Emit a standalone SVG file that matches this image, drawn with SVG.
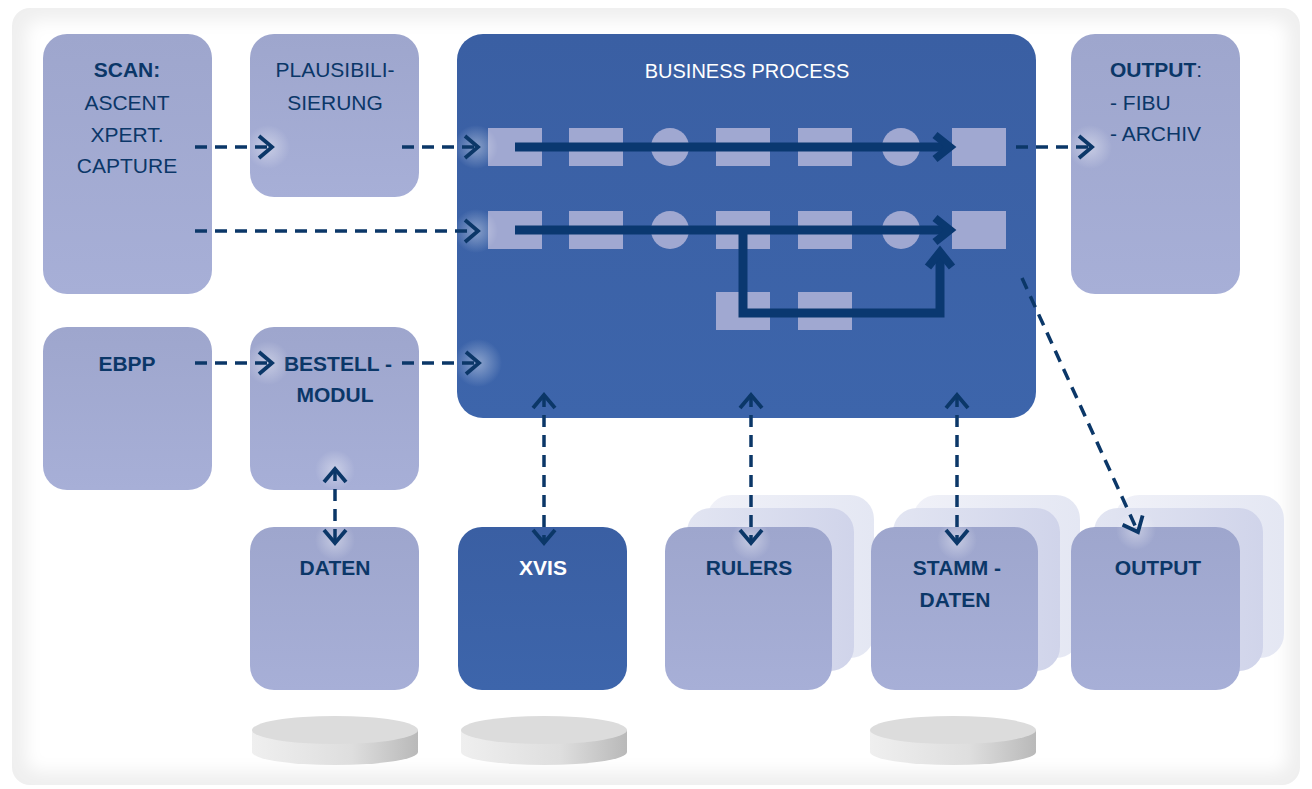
<svg xmlns="http://www.w3.org/2000/svg" width="1312" height="789" viewBox="0 0 1312 789">
<style>
  .lt{fill:url(#gLight)}
  .dk{fill:url(#gDark)}
  .sh1{fill:url(#gSh1)}
  .sh2{fill:url(#gSh2)}
  .t{font-family:"Liberation Sans",Arial,sans-serif;font-size:21px;fill:#0b3768;text-anchor:middle}
  .s{text-anchor:start}
  .b{font-weight:bold}
  .w{fill:#ffffff}
  .ps{fill:#a0a8d1}
  .dash{fill:none;stroke:#0b3768;stroke-width:3.5;stroke-dasharray:12 8}
  .thick{fill:none;stroke:#0a3870;stroke-width:9}
  .cylTop{fill:#dcdcdc}
  .cylSide{fill:url(#gCyl)}
</style>
<defs>
  <linearGradient id="gLight" x1="0" y1="0" x2="0" y2="1">
    <stop offset="0" stop-color="#9ea6cd"/>
    <stop offset="1" stop-color="#a7afd7"/>
  </linearGradient>
  <linearGradient id="gDark" x1="0" y1="0" x2="0" y2="1">
    <stop offset="0" stop-color="#3a5fa3"/>
    <stop offset="1" stop-color="#3d65ab"/>
  </linearGradient>
  <linearGradient id="gSh1" x1="0" y1="0" x2="1" y2="0">
    <stop offset="0" stop-color="#e2e5f2"/>
    <stop offset="1" stop-color="#d0d4ea"/>
  </linearGradient>
  <linearGradient id="gSh2" x1="0" y1="0" x2="1" y2="0">
    <stop offset="0" stop-color="#f0f1f8"/>
    <stop offset="1" stop-color="#e4e7f3"/>
  </linearGradient>
  <linearGradient id="gCyl" x1="0" y1="0" x2="1" y2="0">
    <stop offset="0" stop-color="#efefef"/>
    <stop offset="0.6" stop-color="#dedede"/>
    <stop offset="1" stop-color="#b9b9b9"/>
  </linearGradient>
  <radialGradient id="gGlow">
    <stop offset="0" stop-color="#ffffff" stop-opacity="0.4"/>
    <stop offset="1" stop-color="#ffffff" stop-opacity="0"/>
  </radialGradient>
  <filter id="soft" x="-5%" y="-5%" width="110%" height="110%">
    <feGaussianBlur stdDeviation="8"/>
  </filter>
  <marker id="chev" markerUnits="userSpaceOnUse" markerWidth="40" markerHeight="40" viewBox="-20 -20 40 40" refX="0" refY="0" orient="auto-start-reverse">
    <path d="M -13 -11 L 0 0 L -13 11" fill="none" stroke="#0b3768" stroke-width="3.8"/>
  </marker>
  <marker id="chevT" markerUnits="userSpaceOnUse" markerWidth="50" markerHeight="50" viewBox="-25 -25 50 50" refX="0" refY="0" orient="auto">
    <path d="M -15 -12 L 0 0 L -15 12" fill="none" stroke="#0a3870" stroke-width="8"/>
  </marker>
</defs>

<!-- background panel -->
<rect x="0" y="0" width="1312" height="789" fill="#ffffff"/>
<rect x="12" y="8" width="1288" height="777" rx="18" fill="#efefef"/>
<rect x="26" y="20" width="1262" height="752" rx="14" fill="#ffffff" filter="url(#soft)"/>

<!-- nodes -->
<g id="scan">
  <rect class="lt" x="43" y="34" width="169" height="260" rx="24"/>
  <text class="t b" x="127" y="77">SCAN:</text>
  <text class="t" x="127" y="110">ASCENT</text>
  <text class="t" x="127" y="142">XPERT.</text>
  <text class="t" x="127" y="173">CAPTURE</text>
</g>
<g id="plausibilisierung">
  <rect class="lt" x="250" y="34" width="169" height="163" rx="24"/>
  <text class="t" x="335" y="77">PLAUSIBILI-</text>
  <text class="t" x="335" y="110">SIERUNG</text>
</g>
<g id="business-process">
  <rect class="dk" x="457" y="34" width="579" height="384" rx="26"/>
  <text class="t w" x="747" y="78" style="font-size:20px">BUSINESS PROCESS</text>
  <!-- row 1 -->
  <rect class="ps" x="488" y="128" width="54" height="38"/>
  <rect class="ps" x="569" y="128" width="54" height="38"/>
  <circle class="ps" cx="670" cy="147" r="19"/>
  <rect class="ps" x="716" y="128" width="54" height="38"/>
  <rect class="ps" x="798" y="128" width="54" height="38"/>
  <circle class="ps" cx="901" cy="147" r="19"/>
  <rect class="ps" x="952" y="128" width="54" height="38"/>
  <!-- row 2 -->
  <rect class="ps" x="488" y="211" width="54" height="38"/>
  <rect class="ps" x="569" y="211" width="54" height="38"/>
  <circle class="ps" cx="670" cy="230" r="19"/>
  <rect class="ps" x="716" y="211" width="54" height="38"/>
  <rect class="ps" x="798" y="211" width="54" height="38"/>
  <circle class="ps" cx="901" cy="230" r="19"/>
  <rect class="ps" x="952" y="211" width="54" height="38"/>
  <!-- row 3 -->
  <rect class="ps" x="716" y="292" width="54" height="38"/>
  <rect class="ps" x="798" y="292" width="54" height="38"/>
  <!-- inner flow arrows -->
  <path class="thick" d="M 515 147 H 950" marker-end="url(#chevT)"/>
  <path class="thick" d="M 515 230 H 950" marker-end="url(#chevT)"/>
  <path class="thick" d="M 743 230 V 313 H 940 V 252" marker-end="url(#chevT)"/>
</g>
<g id="output-top">
  <rect class="lt" x="1071" y="34" width="169" height="260" rx="24"/>
  <text class="t s" x="1110" y="77"><tspan font-weight="bold">OUTPUT</tspan>:</text>
  <text class="t s" x="1110" y="110">- FIBU</text>
  <text class="t s" x="1110" y="141">- ARCHIV</text>
</g>
<g id="ebpp">
  <rect class="lt" x="43" y="327" width="169" height="163" rx="24"/>
  <text class="t b" x="127" y="371">EBPP</text>
</g>
<g id="bestellmodul">
  <rect class="lt" x="250" y="327" width="169" height="163" rx="24"/>
  <text class="t b" x="338" y="371">BESTELL -</text>
  <text class="t b" x="335" y="402">MODUL</text>
</g>
<g id="daten">
  <rect class="lt" x="250" y="527" width="169" height="163" rx="24"/>
  <text class="t b" x="335" y="575">DATEN</text>
  <rect class="cylSide" x="252" y="730" width="166" height="22"/>
  <ellipse class="cylSide" cx="335" cy="752" rx="83" ry="13"/>
  <ellipse class="cylTop" cx="335" cy="730" rx="83" ry="14"/>
</g>
<g id="xvis">
  <rect class="dk" x="458" y="527" width="169" height="163" rx="24"/>
  <text class="t b w" x="543" y="575">XVIS</text>
  <rect class="cylSide" x="461" y="730" width="166" height="22"/>
  <ellipse class="cylSide" cx="544" cy="752" rx="83" ry="13"/>
  <ellipse class="cylTop" cx="544" cy="730" rx="83" ry="14"/>
</g>
<g id="rulers">
  <rect class="sh2" x="707" y="495" width="167" height="163" rx="24"/>
  <rect class="sh1" x="687" y="508" width="167" height="163" rx="24"/>
  <rect class="lt" x="665" y="527" width="167" height="163" rx="24"/>
  <text class="t b" x="749" y="575">RULERS</text>
</g>
<g id="stammdaten">
  <rect class="sh2" x="913" y="495" width="167" height="163" rx="24"/>
  <rect class="sh1" x="893" y="508" width="167" height="163" rx="24"/>
  <rect class="lt" x="871" y="527" width="167" height="163" rx="24"/>
  <text class="t b" x="957" y="575">STAMM -</text>
  <text class="t b" x="955" y="607">DATEN</text>
  <rect class="cylSide" x="870" y="730" width="166" height="22"/>
  <ellipse class="cylSide" cx="953" cy="752" rx="83" ry="13"/>
  <ellipse class="cylTop" cx="953" cy="730" rx="83" ry="14"/>
</g>
<g id="output-bottom">
  <rect class="sh2" x="1115" y="495" width="169" height="163" rx="24"/>
  <rect class="sh1" x="1094" y="508" width="169" height="163" rx="24"/>
  <rect class="lt" x="1071" y="527" width="169" height="163" rx="24"/>
  <text class="t b" x="1158" y="575">OUTPUT</text>
</g>

<!-- glows -->
<g id="glows">
  <circle cx="268" cy="147" r="22" fill="url(#gGlow)"/>
  <circle cx="476" cy="147" r="22" fill="url(#gGlow)"/>
  <circle cx="476" cy="231" r="22" fill="url(#gGlow)"/>
  <circle cx="1090" cy="147" r="22" fill="url(#gGlow)"/>
  <circle cx="268" cy="363" r="22" fill="url(#gGlow)"/>
  <circle cx="478" cy="363" r="24" fill="url(#gGlow)"/>
  <circle cx="335" cy="470" r="20" fill="url(#gGlow)"/>
  <circle cx="335" cy="540" r="20" fill="url(#gGlow)"/>
  <circle cx="751" cy="540" r="20" fill="url(#gGlow)"/>
  <circle cx="957" cy="540" r="20" fill="url(#gGlow)"/>
  <circle cx="1136" cy="530" r="20" fill="url(#gGlow)"/>
</g>

<!-- connectors -->
<g id="connectors">
  <path class="dash" d="M 195 147 H 272" marker-end="url(#chev)"/>
  <path class="dash" d="M 402 147 H 478" marker-end="url(#chev)"/>
  <path class="dash" d="M 195 231 H 478" marker-end="url(#chev)"/>
  <path class="dash" d="M 1016 147 H 1092" marker-end="url(#chev)"/>
  <path class="dash" d="M 195 363 H 272" marker-end="url(#chev)"/>
  <path class="dash" d="M 402 363 H 479" marker-end="url(#chev)"/>
  <path class="dash" d="M 335 469 V 543" marker-start="url(#chev)" marker-end="url(#chev)"/>
  <path class="dash" d="M 544 395 V 543" marker-start="url(#chev)" marker-end="url(#chev)"/>
  <path class="dash" d="M 751 395 V 543" marker-start="url(#chev)" marker-end="url(#chev)"/>
  <path class="dash" d="M 957 395 V 543" marker-start="url(#chev)" marker-end="url(#chev)"/>
  <path class="dash" d="M 1022 278 L 1138 532" marker-end="url(#chev)"/>
</g>
</svg>
